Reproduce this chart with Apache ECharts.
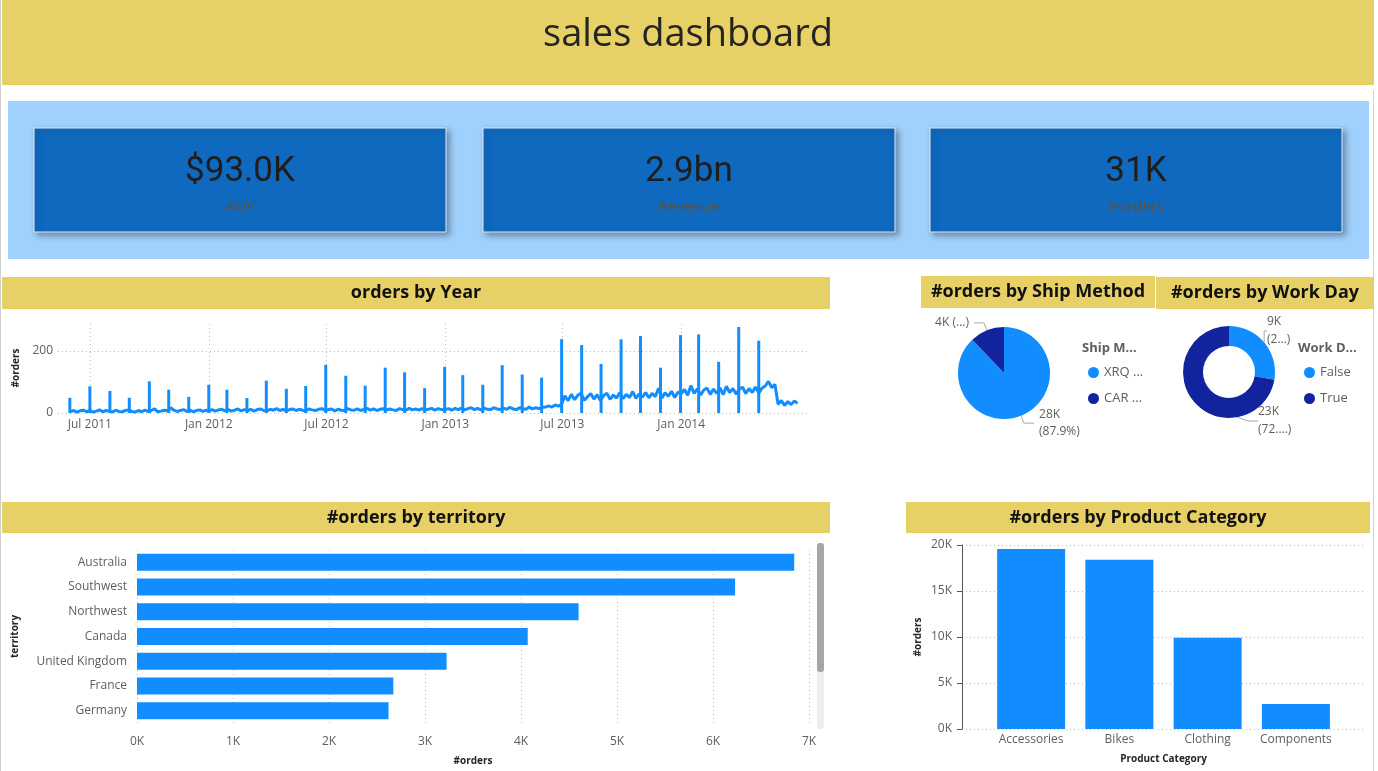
<!DOCTYPE html>
<html>
<head>
<meta charset="utf-8">
<title>sales dashboard</title>
<script src="https://cdn.jsdelivr.net/npm/echarts@6/dist/echarts.min.js"></script>
<style>
  html, body { margin: 0; padding: 0; background: #fff; }
  #main { width: 1378px; height: 771px; }
</style>
</head>
<body>
<div id="main"></div>
<script>
// KPI cards
const kpiValues = ['$93.0K', '2.9bn', '31K'];
const kpiNames = ['AOV', 'Revenue', '#orders'];

// orders by day: monthly reseller spikes
const spikeDates = ['2011-05-31', '2011-07-01', '2011-08-01', '2011-08-31', '2011-10-01', '2011-10-31',
  '2011-12-01', '2012-01-01', '2012-01-29', '2012-02-29', '2012-03-30', '2012-04-30', '2012-05-30',
  '2012-06-30', '2012-07-31', '2012-08-30', '2012-09-30', '2012-10-30', '2012-11-30', '2012-12-31',
  '2013-01-28', '2013-02-28', '2013-03-30', '2013-04-30', '2013-05-30', '2013-06-30', '2013-07-31',
  '2013-08-30', '2013-09-30', '2013-10-30', '2013-11-30', '2013-12-31', '2014-01-28', '2014-02-28',
  '2014-03-31', '2014-05-01'];
const spikeValues = [49, 86, 71, 49, 102, 75, 52, 91, 75, 48, 104, 78, 87, 155, 120, 88, 146, 131, 80,
  149, 122, 91, 154, 124, 114, 238, 219, 158, 237, 248, 146, 251, 253, 165, 277, 233];

// daily base level, read every 5 days from the start date of each array
const base2011 = [5, 8, 3, 7, 9, 4, 8, 3, 6, 10, 4, 8, 6, 3, 9, 5, 4, 8, 10, 5, 3, 8, 4, 9, 5, 8, 13,
  4, 6, 9, 7, 17, 9, 5, 8, 11, 5, 9, 4, 8, 10, 5, 9];
const base2012 = [7, 11, 6, 10, 12, 7, 11, 6, 9, 13, 7, 11, 8, 12, 6, 11, 13, 8, 7, 12, 9, 14, 8, 12,
  7, 11, 13, 8, 12, 9, 7, 13, 10, 8, 12, 14, 8, 11, 13, 7, 12, 9, 8, 14, 10, 9, 13, 8, 12, 15, 9,
  13, 8, 12, 14, 9, 13, 10, 8, 14, 11, 9, 15, 10, 13, 9, 14, 10, 12, 15, 9, 14, 11, 10];
const base2013 = [10, 14, 9, 15, 11, 16, 10, 14, 17, 11, 15, 10, 16, 12, 11, 17, 13, 11, 16, 12, 18,
  13, 11, 17, 14, 12, 19, 13, 17, 14, 18, 19, 23, 19, 26, 22, 29,
  55, 40, 60, 43, 57, 64, 41, 52, 63, 45, 59, 40, 56, 64, 44, 58, 48, 66, 46, 60, 50, 69, 47, 62,
  51, 66, 49, 63, 53, 80, 48, 65, 54, 70, 50, 67];
const base2014 = [62, 76, 57, 88, 63, 78, 58, 74, 80, 60, 77, 63, 81, 59, 86, 66, 79, 61, 77, 83, 63,
  79, 66, 84, 64, 80, 87, 102, 82, 92, 28, 40, 24, 37, 27, 39, 31];
const halfYearTicks = ['2011-07-01', '2012-01-01', '2012-07-01', '2013-01-01', '2013-07-01', '2014-01-01'];

// ship method / work day
const shipNames = ['XRQ - TRUCK GROUND', 'CARGO TRANSPORT 5'];
const shipOrders = [27659, 3806];
const workDayNames = ['False', 'True'];
const workDayOrders = [8711, 22754];

// territory
const territories = ['Australia', 'Southwest', 'Northwest', 'Canada', 'United Kingdom', 'France', 'Germany'];
const territoryOrders = [6846, 6230, 4600, 4070, 3225, 2670, 2620];

// product category
const categories = ['Accessories', 'Bikes', 'Clothing', 'Components'];
const categoryOrders = [19570, 18410, 9930, 2710];

const FONT = '"Segoe UI", "Open Sans", "Noto Sans", sans-serif';
const GOLD = '#E7D167';
const BLUE = '#118DFF';
const NAVY = '#12239E';
const LABEL = '#605E5C';
const DAY = 24 * 3600 * 1000;
const dotted = { type: [1, 3], color: '#BDBDBD', width: 1 };

function toDate(s) {
  const [y, m, d] = s.split('-').map(Number);
  return new Date(y, m - 1, d);
}
function everyFiveDays(start, values) {
  const d0 = toDate(start);
  return values.map((v, i) =>
    [new Date(d0.getFullYear(), d0.getMonth(), d0.getDate() + i * 5).getTime(), v]);
}
const baseData = [].concat(
  everyFiveDays('2011-06-01', base2011),
  everyFiveDays('2012-01-01', base2012),
  everyFiveDays('2013-01-01', base2013),
  everyFiveDays('2014-01-01', base2014)
);
const spikeData = spikeDates.map((d, i) => [toDate(d).getTime(), spikeValues[i]]);
const tickTimes = halfYearTicks.map(d => toDate(d).getTime());

const MONTHS = ['Jan', 'Feb', 'Mar', 'Apr', 'May', 'Jun', 'Jul', 'Aug', 'Sep', 'Oct', 'Nov', 'Dec'];
function halfYearLabel(v) {
  if (tickTimes.indexOf(v) < 0) return '';
  const d = new Date(v);
  return MONTHS[d.getMonth()] + ' ' + d.getFullYear();
}
const kLabel = v => (v / 1000) + 'K';

// Power BI style data label, percent cut short where the visual truncated it
function pieLabel(keep, sep) {
  return p => {
    const pct = p.percent.toFixed(1) + '%';
    const shown = keep[p.dataIndex] == null ? pct : pct.slice(0, keep[p.dataIndex]) + '...';
    return Math.round(p.value / 1000) + 'K' + sep[p.dataIndex] + '(' + shown + ')';
  };
}

// background blocks, titles and cards
const graphics = [
  { type: 'rect', shape: { x: 0, y: 0, width: 1, height: 771 }, style: { fill: '#D0D0D0' } },
  { type: 'rect', shape: { x: 1373, y: 90, width: 1, height: 681 }, style: { fill: '#D0D0D0' } },
  { type: 'rect', shape: { x: 2, y: 0, width: 1372, height: 85 }, style: { fill: GOLD } },
  { type: 'text', x: 688, y: 35, style: { text: 'sales dashboard', fontSize: 38, fontFamily: FONT,
    fill: '#252423', align: 'center', verticalAlign: 'middle' } },
  { type: 'rect', shape: { x: 8, y: 101, width: 1361, height: 158 }, style: { fill: '#A0D0FC' } }
];
[34, 483, 930].forEach((x, i) => {
  graphics.push({ type: 'rect', shape: { x: x, y: 128, width: 412, height: 104 },
    style: { fill: '#0F69BE', stroke: '#DCE8F4', lineWidth: 1, shadowBlur: 6,
      shadowOffsetX: 3, shadowOffsetY: 3, shadowColor: 'rgba(0,0,0,0.35)' } });
  graphics.push({ type: 'text', x: x + 206, y: 172, style: { text: kpiValues[i], fontSize: 35,
    fontWeight: 'normal', fontFamily: 'Roboto, "Liberation Sans", sans-serif',
    fill: '#1E1E1E', align: 'center', verticalAlign: 'middle' } });
  graphics.push({ type: 'text', x: x + 206, y: 207, style: { text: kpiNames[i], fontSize: 15,
    fontFamily: FONT, fill: '#5A5248', align: 'center', verticalAlign: 'middle' } });
});
[
  { x: 2, y: 277, w: 828, h: 32, t: 'orders by Year' },
  { x: 921, y: 276, w: 234, h: 32, t: '#orders by Ship Method' },
  { x: 1156, y: 277, w: 218, h: 32, t: '#orders by Work Day' },
  { x: 2, y: 502, w: 828, h: 31, t: '#orders by territory' },
  { x: 906, y: 502, w: 464, h: 31, t: '#orders by Product Category' }
].forEach(b => {
  graphics.push({ type: 'rect', shape: { x: b.x, y: b.y, width: b.w, height: b.h }, style: { fill: GOLD } });
  graphics.push({ type: 'text', x: b.x + b.w / 2, y: b.y + b.h / 2, style: { text: b.t, fontSize: 18,
    fontWeight: 'bold', fontFamily: FONT, fill: '#111', align: 'center', verticalAlign: 'middle' } });
});
// legend titles
[{ x: 1082, t: 'Ship Method' }, { x: 1298, t: 'Work Day' }].forEach(l => {
  graphics.push({ type: 'text', x: l.x, y: 348, style: { text: l.t, width: 62, overflow: 'truncate',
    ellipsis: '...', fontSize: 13, fontWeight: 'bold', fontFamily: FONT, fill: LABEL,
    align: 'left', verticalAlign: 'middle' } });
});
// territory scroll bar
graphics.push({ type: 'rect', shape: { x: 817, y: 543, width: 7, height: 186, r: 3 }, style: { fill: '#EDEDED' } });
graphics.push({ type: 'rect', shape: { x: 817, y: 543, width: 7, height: 129, r: 3 }, style: { fill: '#A6A6A6' } });

const axisText = { color: LABEL, fontSize: 12, fontFamily: FONT };
const nameText = { color: '#252423', fontSize: 10, fontWeight: 'bold', fontFamily: FONT };

const myChart = echarts.init(document.getElementById('main'));
myChart.setOption({
  animation: false,
  textStyle: { fontFamily: FONT },
  graphic: graphics,
  grid: [
    { left: 58, right: 568, top: 323, bottom: 358 },
    { left: 137, right: 569, top: 550, bottom: 48 },
    { left: 962, right: 12, top: 545, bottom: 42 },
    { left: 987, right: 38, top: 545, bottom: 42 }
  ],
  xAxis: [
    {
      gridIndex: 0, type: 'time', min: '2011-05-15', max: '2014-07-17',
      minInterval: 200 * DAY, maxInterval: 200 * DAY,
      axisLine: { show: false },
      axisTick: { show: false },
      axisLabel: Object.assign({ formatter: halfYearLabel, margin: 6 }, axisText),
      splitLine: { show: false }
    },
    {
      gridIndex: 1, type: 'value', min: 0, max: 7000, interval: 1000,
      axisLabel: Object.assign({ formatter: kLabel, margin: 13 }, axisText),
      splitLine: { show: true, lineStyle: dotted },
      name: '#orders', nameLocation: 'middle', nameGap: 33, nameTextStyle: nameText
    },
    { gridIndex: 2, type: 'value', min: 0, max: 1, show: false },
    {
      gridIndex: 3, type: 'category', data: categories,
      axisLine: { show: false }, axisTick: { show: false },
      axisLabel: Object.assign({ margin: 5, interval: 0 }, axisText),
      name: 'Product Category', nameLocation: 'middle', nameGap: 25, nameTextStyle: nameText
    }
  ],
  yAxis: [
    {
      gridIndex: 0, type: 'value', min: 0, max: 290, interval: 200,
      axisLabel: Object.assign({ margin: 5, showMaxLabel: false }, axisText),
      splitLine: { show: true, lineStyle: dotted, showMaxLine: false },
      name: '#orders', nameLocation: 'middle', nameGap: 37, nameTextStyle: nameText
    },
    {
      gridIndex: 1, type: 'category', data: territories, inverse: true,
      axisLine: { show: false }, axisTick: { show: false },
      axisLabel: Object.assign({ margin: 10 }, axisText),
      name: 'territory', nameLocation: 'middle', nameGap: 117, nameTextStyle: nameText
    },
    {
      gridIndex: 2, type: 'value', min: 0, max: 20000, interval: 5000,
      axisLabel: Object.assign({ formatter: kLabel, margin: 10 }, axisText),
      splitLine: { show: true, lineStyle: dotted },
      name: '#orders', nameLocation: 'middle', nameGap: 39, nameTextStyle: nameText
    },
    { gridIndex: 3, type: 'value', min: 0, max: 20000, show: false }
  ],
  legend: [
    {
      left: 1083, top: 361, orient: 'vertical', itemGap: 13, icon: 'circle',
      itemWidth: 11, itemHeight: 11, data: shipNames,
      textStyle: { color: LABEL, fontSize: 13, width: 42, overflow: 'truncate', ellipsis: ' ...' }
    },
    {
      left: 1299, top: 361, orient: 'vertical', itemGap: 13, icon: 'circle',
      itemWidth: 11, itemHeight: 11, data: workDayNames,
      textStyle: { color: LABEL, fontSize: 13 }
    }
  ],
  series: [
    {
      name: 'orders', type: 'line', xAxisIndex: 0, yAxisIndex: 0, data: baseData, z: 3,
      showSymbol: false, lineStyle: { width: 3, color: BLUE }, itemStyle: { color: BLUE },
      markLine: {
        silent: true, z: 1, symbol: ['none', 'none'], label: { show: false },
        lineStyle: dotted, emphasis: { disabled: true },
        data: tickTimes.map(t => ({ xAxis: t }))
      }
    },
    {
      name: 'orders', type: 'bar', xAxisIndex: 0, yAxisIndex: 0, data: spikeData, z: 3,
      barWidth: 3, itemStyle: { color: BLUE }
    },
    {
      name: '#orders', type: 'bar', xAxisIndex: 1, yAxisIndex: 1, data: territoryOrders,
      barWidth: 17, itemStyle: { color: BLUE }
    },
    {
      name: '#orders', type: 'bar', xAxisIndex: 3, yAxisIndex: 3, data: categoryOrders,
      barWidth: 68, itemStyle: { color: BLUE }
    },
    {
      name: 'Ship Method', type: 'pie', center: [1004, 373], radius: [0, 46], startAngle: 90,
      color: [BLUE, NAVY],
      data: shipNames.map((n, i) => ({ name: n, value: shipOrders[i] })),
      label: { formatter: pieLabel([null, 0], ['\n', ' ']), color: LABEL, fontSize: 12, lineHeight: 17 },
      labelLine: { length: 8, length2: 10, lineStyle: { color: '#A8A8A8', width: 1 } }
    },
    {
      name: 'Work Day', type: 'pie', center: [1229, 372], radius: [26, 46], startAngle: 90,
      color: [BLUE, NAVY],
      data: workDayNames.map((n, i) => ({ name: n, value: workDayOrders[i] })),
      label: { formatter: pieLabel([1, 3], ['\n', '\n']), color: LABEL, fontSize: 12, lineHeight: 18 },
      labelLine: { length: 8, length2: 10, lineStyle: { color: '#A8A8A8', width: 1 } },
      labelLayout: p => (p.dataIndex === 0
        ? { x: 1267, y: 313, align: 'left', verticalAlign: 'top' }
        : { x: 1258, y: 403, align: 'left', verticalAlign: 'top' })
    }
  ]
});
window.onresize = function () {
  myChart.resize();
};
</script>
</body>
</html>
